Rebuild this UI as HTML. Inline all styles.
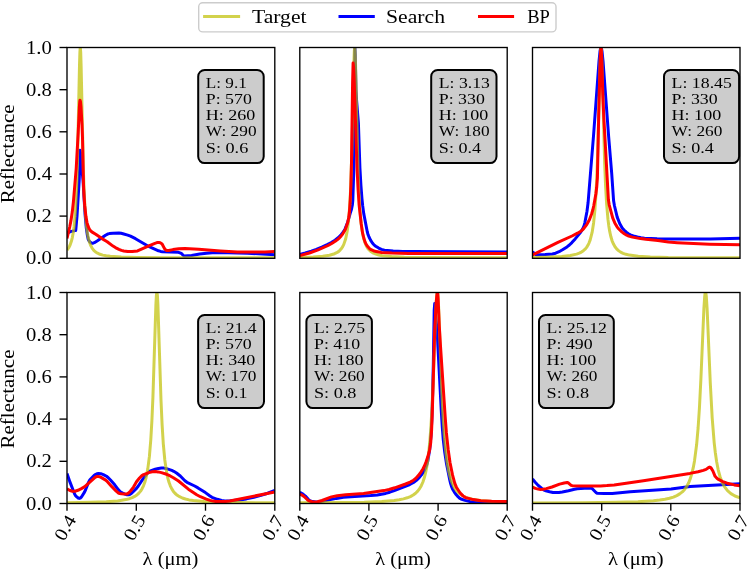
<!DOCTYPE html>
<html><head><meta charset="utf-8"><style>
html,body{margin:0;padding:0;background:#fff;}
svg{display:block;will-change:transform;}
text{font-family:"Liberation Serif", serif;fill:#000;}
</style></head><body>
<svg width="749" height="570" viewBox="0 0 749 570">
<defs><clipPath id="c0"><rect x="67.0" y="47.5" width="207.8" height="210.8"/></clipPath><clipPath id="c1"><rect x="299.8" y="47.5" width="207.4" height="210.8"/></clipPath><clipPath id="c2"><rect x="532.5" y="47.5" width="207.5" height="210.8"/></clipPath><clipPath id="c3"><rect x="67.0" y="292.5" width="207.8" height="211.0"/></clipPath><clipPath id="c4"><rect x="299.8" y="292.5" width="207.4" height="211.0"/></clipPath><clipPath id="c5"><rect x="532.5" y="292.5" width="207.5" height="211.0"/></clipPath></defs>
<rect width="749" height="570" fill="#fff"/>
<g clip-path="url(#c0)" fill="none" stroke-linejoin="round" stroke-linecap="butt">
<path d="M67.0,233.0 71.2,231.4 75.3,230.6 75.6,230.5 75.8,229.8 77.0,216.2 79.2,180.3 79.8,165.0 80.0,150.3 80.5,152.7 81.4,163.9 83.0,180.0 85.0,213.6 86.3,228.0 87.4,235.5 88.2,239.3 88.5,240.0 89.6,241.6 91.2,243.0 92.6,243.3 94.3,242.7 97.1,241.0 105.5,235.3 108.1,233.9 109.4,233.6 113.0,233.2 118.9,233.0 121.1,233.3 123.8,234.0 127.7,235.1 130.5,236.2 135.5,238.7 149.2,246.7 158.5,250.8 160.6,251.4 162.5,251.7 178.5,252.3 181.3,253.4 183.4,255.5 184.3,256.0 191.6,255.4 199.6,254.0 206.6,253.2 215.2,252.6 228.0,252.7 247.5,253.2 274.8,254.7" stroke="#0000ff" stroke-width="3.0"/>
<path d="M67.0,250.1 68.7,247.8 70.1,245.0 71.3,241.6 72.4,237.3 73.3,232.3 74.1,226.4 75.5,210.1 76.5,190.7 77.3,167.5 79.5,65.3 79.9,52.0 80.3,47.1 80.7,52.0 81.1,65.3 83.4,170.8 84.2,193.0 85.2,211.6 86.6,227.2 87.4,233.0 88.3,237.7 89.4,242.0 90.6,245.3 92.1,248.1 93.8,250.3 95.6,252.0 97.6,253.2 100.0,254.3 102.8,255.1 106.2,255.8 110.2,256.3 121.2,257.0 136.9,257.4 161.7,257.7 274.8,257.8" stroke="rgba(191,191,0,0.7)" stroke-width="3.0"/>
<path d="M67.0,238.5 69.7,227.0 70.9,220.9 72.3,211.8 73.4,202.0 76.2,168.5 78.2,132.7 79.4,106.6 79.7,102.3 80.0,100.3 80.5,101.8 81.0,106.8 82.0,124.9 82.5,137.8 83.5,184.5 84.0,195.4 84.7,205.4 85.9,216.3 87.0,222.6 88.1,226.2 89.2,228.8 90.2,230.4 91.8,231.9 95.7,234.3 102.0,238.6 107.2,241.7 113.0,246.1 115.4,247.6 118.9,249.4 121.4,250.4 123.8,251.0 127.7,251.6 132.1,251.6 137.5,250.9 149.4,245.6 154.9,243.3 157.0,242.6 158.8,242.4 160.2,242.7 161.8,243.7 162.5,244.7 164.5,248.6 166.0,250.2 166.9,250.6 168.7,250.5 173.0,249.6 178.7,248.8 184.9,248.4 198.7,249.2 220.4,250.9 237.3,251.9 264.9,252.0 274.8,251.5" stroke="#ff0000" stroke-width="3.0"/>
</g>
<rect x="67.0" y="47.5" width="207.8" height="210.8" fill="none" stroke="#000" stroke-width="1.35"/>
<rect x="198.2" y="70.0" width="65.5" height="93.1" rx="6.5" ry="6.5" fill="#cccccc" stroke="#000" stroke-width="2.0"/>
<text x="205.8" y="87.5" font-size="15.6" textLength="40.99" lengthAdjust="spacingAndGlyphs">L: 9.1</text>
<text x="205.8" y="103.8" font-size="15.6" textLength="46.05" lengthAdjust="spacingAndGlyphs">P: 570</text>
<text x="205.8" y="120.1" font-size="15.6" textLength="49.56" lengthAdjust="spacingAndGlyphs">H: 260</text>
<text x="205.8" y="136.4" font-size="15.6" textLength="50.74" lengthAdjust="spacingAndGlyphs">W: 290</text>
<text x="205.8" y="152.7" font-size="15.6" textLength="42.46" lengthAdjust="spacingAndGlyphs">S: 0.6</text>
<line x1="59.5" y1="258.3" x2="67.0" y2="258.3" stroke="#000" stroke-width="1.35"/>
<text x="51.9" y="264.4" font-size="18.5" text-anchor="end" textLength="25.78" lengthAdjust="spacingAndGlyphs">0.0</text>
<line x1="59.5" y1="216.1" x2="67.0" y2="216.1" stroke="#000" stroke-width="1.35"/>
<text x="51.9" y="222.2" font-size="18.5" text-anchor="end" textLength="25.72" lengthAdjust="spacingAndGlyphs">0.2</text>
<line x1="59.5" y1="174.0" x2="67.0" y2="174.0" stroke="#000" stroke-width="1.35"/>
<text x="51.9" y="180.1" font-size="18.5" text-anchor="end" textLength="25.62" lengthAdjust="spacingAndGlyphs">0.4</text>
<line x1="59.5" y1="131.8" x2="67.0" y2="131.8" stroke="#000" stroke-width="1.35"/>
<text x="51.9" y="137.9" font-size="18.5" text-anchor="end" textLength="25.76" lengthAdjust="spacingAndGlyphs">0.6</text>
<line x1="59.5" y1="89.7" x2="67.0" y2="89.7" stroke="#000" stroke-width="1.35"/>
<text x="51.9" y="95.8" font-size="18.5" text-anchor="end" textLength="25.78" lengthAdjust="spacingAndGlyphs">0.8</text>
<line x1="59.5" y1="47.5" x2="67.0" y2="47.5" stroke="#000" stroke-width="1.35"/>
<text x="51.9" y="53.6" font-size="18.5" text-anchor="end" textLength="25.89" lengthAdjust="spacingAndGlyphs">1.0</text>
<text transform="translate(14.0,153.9) rotate(-90)" font-size="18.5" text-anchor="middle" textLength="98.84" lengthAdjust="spacingAndGlyphs">Reflectance</text>
<g clip-path="url(#c1)" fill="none" stroke-linejoin="round" stroke-linecap="butt">
<path d="M299.8,254.4 305.3,253.0 311.3,251.2 316.3,249.5 321.8,247.2 327.2,244.7 331.3,242.6 335.0,240.2 338.1,237.8 340.3,235.7 342.1,233.6 343.8,231.2 345.1,228.9 347.7,222.2 350.2,213.3 351.5,209.3 352.4,204.7 352.8,200.3 353.8,170.0 354.4,121.1 354.9,48.0 355.2,54.4 356.0,90.0 356.6,100.5 358.4,123.1 359.9,167.6 360.9,185.0 361.9,198.1 362.7,206.0 363.7,213.4 367.2,231.5 368.1,234.8 369.0,237.0 370.7,240.4 372.4,243.0 374.0,244.9 375.7,246.2 378.7,248.1 381.4,249.4 384.5,250.2 393.2,250.9 402.7,251.4 414.0,251.5 507.2,251.9" stroke="#0000ff" stroke-width="3.0"/>
<path d="M299.8,257.3 313.3,256.9 322.7,256.2 329.5,255.2 334.6,253.7 336.7,252.7 338.5,251.6 340.1,250.1 341.5,248.5 342.7,246.6 343.8,244.4 345.7,238.7 347.2,231.3 348.5,221.1 349.6,207.7 350.5,191.4 351.9,150.6 353.9,62.5 354.3,51.2 354.7,47.1 355.1,51.2 355.5,62.5 358.0,167.8 358.8,189.2 359.7,206.2 361.0,222.1 361.8,228.6 362.7,234.1 363.7,238.7 364.9,242.6 366.2,245.7 367.8,248.4 369.4,250.2 371.2,251.8 373.4,253.1 375.9,254.1 378.8,255.0 382.3,255.7 391.5,256.6 404.4,257.2 424.1,257.5 507.2,257.8" stroke="rgba(191,191,0,0.7)" stroke-width="3.0"/>
<path d="M299.8,255.6 309.4,253.0 318.1,249.9 328.1,245.5 331.7,243.5 335.2,241.3 337.5,239.6 339.5,237.8 341.2,235.9 342.8,233.8 344.3,231.3 345.5,228.9 347.6,222.8 348.7,217.7 349.5,211.3 350.3,199.2 350.9,184.8 351.5,162.5 352.6,81.9 353.1,63.0 353.6,67.2 354.1,78.2 357.0,167.6 358.1,189.8 359.1,204.8 361.2,223.9 362.5,232.6 363.8,238.0 365.1,242.1 366.2,244.4 367.9,246.8 369.5,248.6 371.0,249.7 373.4,250.7 376.3,251.6 381.5,252.5 391.8,253.1 408.6,253.6 507.2,253.6" stroke="#ff0000" stroke-width="3.0"/>
</g>
<rect x="299.8" y="47.5" width="207.4" height="210.8" fill="none" stroke="#000" stroke-width="1.35"/>
<rect x="431.2" y="70.0" width="65.3" height="93.1" rx="6.5" ry="6.5" fill="#cccccc" stroke="#000" stroke-width="2.0"/>
<text x="438.8" y="87.5" font-size="15.6" textLength="50.99" lengthAdjust="spacingAndGlyphs">L: 3.13</text>
<text x="438.8" y="103.8" font-size="15.6" textLength="46.05" lengthAdjust="spacingAndGlyphs">P: 330</text>
<text x="438.8" y="120.1" font-size="15.6" textLength="49.56" lengthAdjust="spacingAndGlyphs">H: 100</text>
<text x="438.8" y="136.4" font-size="15.6" textLength="50.74" lengthAdjust="spacingAndGlyphs">W: 180</text>
<text x="438.8" y="152.7" font-size="15.6" textLength="42.31" lengthAdjust="spacingAndGlyphs">S: 0.4</text>
<g clip-path="url(#c2)" fill="none" stroke-linejoin="round" stroke-linecap="butt">
<path d="M532.5,251.9 535.9,254.5 536.9,254.8 538.3,254.8 545.2,254.6 552.4,254.0 555.6,253.2 559.1,251.7 562.5,249.8 567.0,246.9 569.4,245.0 571.9,242.6 575.2,238.9 580.8,232.1 582.6,229.1 584.1,225.7 584.9,222.5 587.0,211.3 588.1,202.5 593.5,136.0 599.0,61.4 600.1,50.7 600.6,48.2 601.0,47.5 601.5,48.5 602.0,51.2 603.1,62.0 608.6,136.0 611.7,173.4 613.6,200.8 614.4,205.5 617.2,217.1 619.7,223.5 622.2,227.9 624.0,230.0 626.3,232.2 628.4,233.8 630.4,234.9 633.4,235.9 637.4,237.0 641.0,237.7 644.5,238.2 657.1,238.8 669.6,239.0 710.3,238.9 740.0,238.3" stroke="#0000ff" stroke-width="3.0"/>
<path d="M532.5,257.4 549.8,257.0 561.7,256.4 570.3,255.5 576.6,254.1 579.2,253.2 581.4,252.1 583.4,250.7 585.1,249.2 586.6,247.4 587.9,245.3 589.1,242.8 590.2,239.9 592.1,232.4 593.6,222.9 594.9,210.2 596.0,193.9 596.9,175.0 597.7,152.5 600.1,61.7 600.6,50.1 601.0,47.1 601.5,51.8 602.0,64.8 604.7,164.5 605.6,186.3 606.6,203.5 608.0,219.5 608.8,225.9 609.8,231.9 610.9,236.8 612.1,240.8 613.5,244.1 615.0,246.8 616.6,248.8 618.5,250.6 620.6,252.1 623.1,253.3 626.0,254.3 629.4,255.1 638.2,256.2 650.3,256.9 668.3,257.4 740.0,257.8" stroke="rgba(191,191,0,0.7)" stroke-width="3.0"/>
<path d="M532.5,255.0 557.9,242.3 572.0,236.0 577.5,233.2 580.4,231.5 582.2,230.1 583.7,228.6 586.9,224.3 589.4,219.7 591.6,214.0 592.7,210.3 593.7,206.0 595.9,193.8 596.7,187.3 597.4,178.0 598.7,115.8 599.8,74.4 600.5,53.6 601.0,48.0 601.3,50.3 601.6,56.4 602.8,94.9 603.8,117.2 608.4,199.8 609.2,204.8 612.7,217.9 614.8,222.9 617.2,227.1 618.8,229.0 621.8,231.9 624.3,233.8 626.7,235.2 628.7,236.1 632.4,237.1 640.4,238.6 645.9,239.3 657.9,240.4 668.4,242.1 677.3,242.7 709.6,244.2 725.0,244.6 740.0,244.7" stroke="#ff0000" stroke-width="3.0"/>
</g>
<rect x="532.5" y="47.5" width="207.5" height="210.8" fill="none" stroke="#000" stroke-width="1.35"/>
<rect x="664.0" y="70.0" width="75.1" height="93.1" rx="6.5" ry="6.5" fill="#cccccc" stroke="#000" stroke-width="2.0"/>
<text x="671.6" y="87.5" font-size="15.6" textLength="60.30" lengthAdjust="spacingAndGlyphs">L: 18.45</text>
<text x="671.6" y="103.8" font-size="15.6" textLength="46.05" lengthAdjust="spacingAndGlyphs">P: 330</text>
<text x="671.6" y="120.1" font-size="15.6" textLength="49.56" lengthAdjust="spacingAndGlyphs">H: 100</text>
<text x="671.6" y="136.4" font-size="15.6" textLength="50.74" lengthAdjust="spacingAndGlyphs">W: 260</text>
<text x="671.6" y="152.7" font-size="15.6" textLength="42.31" lengthAdjust="spacingAndGlyphs">S: 0.4</text>
<g clip-path="url(#c3)" fill="none" stroke-linejoin="round" stroke-linecap="butt">
<path d="M67.0,473.4 70.1,482.4 74.6,494.0 75.6,495.7 76.8,496.9 78.2,498.0 79.3,498.4 80.3,498.1 81.3,497.2 84.5,492.1 85.7,489.5 88.6,482.1 89.9,479.7 93.8,475.7 95.4,474.5 96.9,473.7 98.6,473.4 100.8,473.7 103.3,474.6 106.5,476.3 108.3,477.7 110.5,480.0 114.7,484.8 118.5,489.9 120.3,491.8 122.2,492.9 125.0,494.1 127.0,494.7 128.7,494.8 130.1,494.3 131.6,493.3 136.5,488.4 138.3,486.0 143.0,478.9 147.0,473.8 149.0,471.8 150.5,470.9 155.2,469.2 158.4,468.4 161.4,468.0 163.8,468.1 166.5,468.6 171.8,470.4 173.7,471.3 176.5,473.0 180.3,476.0 184.9,480.7 187.0,482.3 194.7,486.0 198.0,487.9 205.4,492.6 210.0,496.0 212.0,497.3 217.3,499.3 221.6,500.5 224.9,500.9 230.7,500.7 241.1,499.7 246.4,498.9 253.9,497.3 261.0,495.4 267.7,493.2 274.8,490.5" stroke="#0000ff" stroke-width="3.0"/>
<path d="M67.0,502.7 90.3,502.3 106.3,501.8 117.7,500.9 125.9,499.6 129.3,498.7 132.2,497.7 134.7,496.4 136.9,495.0 138.9,493.1 140.6,491.1 142.1,488.7 143.5,485.8 144.8,482.3 145.9,478.4 147.8,468.9 149.4,456.4 150.8,439.6 151.9,420.7 152.9,397.6 155.9,304.5 156.4,295.3 156.9,292.1 157.4,295.3 157.9,304.5 161.0,400.2 162.1,424.6 163.3,443.8 164.8,460.0 166.7,472.9 167.8,478.0 169.0,482.3 170.3,485.8 171.8,488.9 173.4,491.4 175.2,493.5 177.3,495.3 179.6,496.7 182.3,498.0 185.5,499.0 189.1,499.9 193.4,500.6 204.0,501.6 219.1,502.2 241.1,502.6 274.8,502.8" stroke="rgba(191,191,0,0.7)" stroke-width="3.0"/>
<path d="M67.0,488.9 69.9,490.5 72.5,491.2 75.0,491.2 77.9,490.3 81.4,488.6 84.5,486.8 95.1,477.3 96.5,476.6 97.9,476.4 99.4,476.7 101.0,477.4 105.7,480.1 107.4,481.7 111.6,486.4 116.2,491.1 118.5,493.0 119.7,493.5 121.5,493.8 124.4,494.1 126.5,494.1 128.3,493.2 130.5,491.0 133.5,487.1 136.5,481.7 139.5,478.0 141.9,475.6 143.6,474.6 148.8,472.6 152.2,471.8 155.3,471.6 158.1,471.9 161.4,472.6 166.6,474.3 169.8,475.7 173.4,477.7 178.5,481.0 188.4,489.2 196.7,494.7 200.4,496.7 206.3,499.1 210.0,500.4 213.1,501.1 215.7,501.4 225.4,501.4 229.7,501.0 274.8,492.0" stroke="#ff0000" stroke-width="3.0"/>
</g>
<rect x="67.0" y="292.5" width="207.8" height="211.0" fill="none" stroke="#000" stroke-width="1.35"/>
<rect x="198.1" y="315.0" width="65.9" height="93.1" rx="6.5" ry="6.5" fill="#cccccc" stroke="#000" stroke-width="2.0"/>
<text x="205.7" y="332.5" font-size="15.6" textLength="50.94" lengthAdjust="spacingAndGlyphs">L: 21.4</text>
<text x="205.7" y="348.8" font-size="15.6" textLength="46.05" lengthAdjust="spacingAndGlyphs">P: 570</text>
<text x="205.7" y="365.1" font-size="15.6" textLength="49.56" lengthAdjust="spacingAndGlyphs">H: 340</text>
<text x="205.7" y="381.4" font-size="15.6" textLength="50.74" lengthAdjust="spacingAndGlyphs">W: 170</text>
<text x="205.7" y="397.7" font-size="15.6" textLength="41.69" lengthAdjust="spacingAndGlyphs">S: 0.1</text>
<line x1="59.5" y1="503.5" x2="67.0" y2="503.5" stroke="#000" stroke-width="1.35"/>
<text x="51.9" y="509.6" font-size="18.5" text-anchor="end" textLength="25.78" lengthAdjust="spacingAndGlyphs">0.0</text>
<line x1="59.5" y1="461.3" x2="67.0" y2="461.3" stroke="#000" stroke-width="1.35"/>
<text x="51.9" y="467.4" font-size="18.5" text-anchor="end" textLength="25.72" lengthAdjust="spacingAndGlyphs">0.2</text>
<line x1="59.5" y1="419.1" x2="67.0" y2="419.1" stroke="#000" stroke-width="1.35"/>
<text x="51.9" y="425.2" font-size="18.5" text-anchor="end" textLength="25.62" lengthAdjust="spacingAndGlyphs">0.4</text>
<line x1="59.5" y1="376.9" x2="67.0" y2="376.9" stroke="#000" stroke-width="1.35"/>
<text x="51.9" y="383.0" font-size="18.5" text-anchor="end" textLength="25.76" lengthAdjust="spacingAndGlyphs">0.6</text>
<line x1="59.5" y1="334.7" x2="67.0" y2="334.7" stroke="#000" stroke-width="1.35"/>
<text x="51.9" y="340.8" font-size="18.5" text-anchor="end" textLength="25.78" lengthAdjust="spacingAndGlyphs">0.8</text>
<line x1="59.5" y1="292.5" x2="67.0" y2="292.5" stroke="#000" stroke-width="1.35"/>
<text x="51.9" y="298.6" font-size="18.5" text-anchor="end" textLength="25.89" lengthAdjust="spacingAndGlyphs">1.0</text>
<text transform="translate(14.0,399.0) rotate(-90)" font-size="18.5" text-anchor="middle" textLength="98.84" lengthAdjust="spacingAndGlyphs">Reflectance</text>
<line x1="67.0" y1="503.5" x2="67.0" y2="510.7" stroke="#000" stroke-width="1.35"/>
<text transform="translate(65.1,527.8) rotate(-60)" font-size="18.5" text-anchor="middle" y="6.1" textLength="25.62" lengthAdjust="spacingAndGlyphs">0.4</text>
<line x1="136.3" y1="503.5" x2="136.3" y2="510.7" stroke="#000" stroke-width="1.35"/>
<text transform="translate(134.4,527.8) rotate(-60)" font-size="18.5" text-anchor="middle" y="6.1" textLength="25.68" lengthAdjust="spacingAndGlyphs">0.5</text>
<line x1="205.5" y1="503.5" x2="205.5" y2="510.7" stroke="#000" stroke-width="1.35"/>
<text transform="translate(203.6,527.8) rotate(-60)" font-size="18.5" text-anchor="middle" y="6.1" textLength="25.76" lengthAdjust="spacingAndGlyphs">0.6</text>
<line x1="274.8" y1="503.5" x2="274.8" y2="510.7" stroke="#000" stroke-width="1.35"/>
<text transform="translate(272.9,527.8) rotate(-60)" font-size="18.5" text-anchor="middle" y="6.1" textLength="25.55" lengthAdjust="spacingAndGlyphs">0.7</text>
<text x="170.4" y="564.6" font-size="18.5" text-anchor="middle" textLength="55.66" lengthAdjust="spacingAndGlyphs">λ (μm)</text>
<g clip-path="url(#c4)" fill="none" stroke-linejoin="round" stroke-linecap="butt">
<path d="M299.8,492.2 302.4,493.8 305.4,496.1 308.5,499.6 309.6,500.6 312.7,501.6 315.7,502.0 319.7,501.7 336.4,498.4 343.4,497.3 354.7,496.4 370.8,495.6 377.3,494.9 385.6,493.4 389.8,492.2 394.3,490.6 409.8,484.5 413.5,482.5 416.4,480.3 419.4,477.4 422.3,473.7 424.0,471.1 425.4,468.3 426.8,464.6 427.8,461.0 429.7,449.4 431.0,435.5 431.8,420.0 432.5,399.3 433.3,365.5 434.2,310.0 434.7,303.5 437.2,333.0 441.2,409.3 442.3,427.4 443.2,439.0 444.7,452.1 446.4,463.1 449.5,478.8 450.7,483.8 451.7,487.0 452.5,488.9 454.5,492.3 456.3,494.8 458.0,496.7 459.5,498.1 461.0,499.0 465.1,500.4 469.9,501.5 474.5,502.0 507.2,502.3" stroke="#0000ff" stroke-width="3.0"/>
<path d="M299.8,502.8 338.6,502.6 364.2,502.2 381.8,501.5 394.2,500.5 399.2,499.8 403.5,498.9 407.2,497.8 410.4,496.6 413.2,495.0 415.6,493.2 417.7,491.1 419.6,488.6 421.3,485.7 422.9,482.0 424.3,477.8 425.6,472.7 426.8,466.6 427.8,460.2 429.6,444.0 430.9,427.1 432.0,408.0 433.3,378.6 435.9,308.6 436.6,296.5 437.0,292.9 437.3,292.1 437.6,292.9 437.9,295.3 438.6,306.5 441.9,393.1 443.0,415.5 444.1,432.9 445.5,449.2 447.0,461.6 448.8,471.8 451.0,480.0 452.2,483.2 453.6,486.2 455.1,488.8 456.8,491.0 458.7,493.0 460.8,494.6 463.2,496.1 465.9,497.3 468.9,498.3 472.3,499.2 480.7,500.5 491.9,501.5 507.2,502.1" stroke="rgba(191,191,0,0.7)" stroke-width="3.0"/>
<path d="M299.8,494.0 301.9,495.1 304.3,496.7 307.4,499.8 308.5,500.6 312.1,501.7 315.2,502.0 317.5,501.7 322.0,500.5 331.5,496.9 337.2,495.8 345.8,494.7 363.5,493.5 383.9,490.6 389.0,489.5 394.8,487.8 405.6,484.0 410.2,482.1 413.5,480.2 415.7,478.4 418.3,475.6 420.9,472.1 422.9,469.0 424.3,466.2 425.9,462.3 427.8,456.8 429.6,450.2 430.7,442.9 431.6,430.3 432.2,415.8 434.7,330.0 436.3,301.3 436.9,294.9 437.2,293.1 437.5,292.5 437.8,294.1 438.1,298.5 439.3,326.2 440.4,344.7 445.2,417.1 446.4,432.9 448.2,449.7 450.0,462.5 452.5,474.9 454.8,483.4 456.4,487.2 460.0,492.7 463.0,495.9 464.4,496.9 465.8,497.6 473.2,499.6 480.8,500.7 491.6,501.2 507.2,501.4" stroke="#ff0000" stroke-width="3.0"/>
</g>
<rect x="299.8" y="292.5" width="207.4" height="211.0" fill="none" stroke="#000" stroke-width="1.35"/>
<rect x="306.4" y="315.0" width="65.5" height="93.1" rx="6.5" ry="6.5" fill="#cccccc" stroke="#000" stroke-width="2.0"/>
<text x="314.0" y="332.5" font-size="15.6" textLength="50.99" lengthAdjust="spacingAndGlyphs">L: 2.75</text>
<text x="314.0" y="348.8" font-size="15.6" textLength="46.05" lengthAdjust="spacingAndGlyphs">P: 410</text>
<text x="314.0" y="365.1" font-size="15.6" textLength="49.56" lengthAdjust="spacingAndGlyphs">H: 180</text>
<text x="314.0" y="381.4" font-size="15.6" textLength="50.74" lengthAdjust="spacingAndGlyphs">W: 260</text>
<text x="314.0" y="397.7" font-size="15.6" textLength="42.48" lengthAdjust="spacingAndGlyphs">S: 0.8</text>
<line x1="299.8" y1="503.5" x2="299.8" y2="510.7" stroke="#000" stroke-width="1.35"/>
<text transform="translate(297.9,527.8) rotate(-60)" font-size="18.5" text-anchor="middle" y="6.1" textLength="25.62" lengthAdjust="spacingAndGlyphs">0.4</text>
<line x1="368.9" y1="503.5" x2="368.9" y2="510.7" stroke="#000" stroke-width="1.35"/>
<text transform="translate(367.0,527.8) rotate(-60)" font-size="18.5" text-anchor="middle" y="6.1" textLength="25.68" lengthAdjust="spacingAndGlyphs">0.5</text>
<line x1="438.1" y1="503.5" x2="438.1" y2="510.7" stroke="#000" stroke-width="1.35"/>
<text transform="translate(436.2,527.8) rotate(-60)" font-size="18.5" text-anchor="middle" y="6.1" textLength="25.76" lengthAdjust="spacingAndGlyphs">0.6</text>
<line x1="507.2" y1="503.5" x2="507.2" y2="510.7" stroke="#000" stroke-width="1.35"/>
<text transform="translate(505.3,527.8) rotate(-60)" font-size="18.5" text-anchor="middle" y="6.1" textLength="25.55" lengthAdjust="spacingAndGlyphs">0.7</text>
<text x="403.0" y="564.6" font-size="18.5" text-anchor="middle" textLength="55.66" lengthAdjust="spacingAndGlyphs">λ (μm)</text>
<g clip-path="url(#c5)" fill="none" stroke-linejoin="round" stroke-linecap="butt">
<path d="M532.5,479.0 535.2,482.3 537.6,484.8 541.8,488.5 544.2,490.2 545.8,490.9 549.6,491.8 552.9,492.4 556.0,492.6 558.9,492.5 562.3,492.0 568.5,490.8 574.5,489.2 577.2,488.7 584.5,488.2 590.9,488.0 591.5,488.1 592.3,488.7 596.2,492.7 597.1,493.3 604.3,493.6 612.3,493.6 630.2,491.7 671.1,488.9 690.1,486.5 740.0,483.8" stroke="#0000ff" stroke-width="3.0"/>
<path d="M532.5,502.9 583.0,502.7 615.7,502.3 637.9,501.7 653.4,500.8 659.7,500.1 665.0,499.3 669.5,498.3 673.4,497.1 676.8,495.6 679.7,493.9 682.3,491.9 684.6,489.4 686.8,486.3 688.7,482.7 690.4,478.4 691.9,473.4 693.3,467.4 694.5,460.9 696.6,444.8 698.1,428.0 699.4,408.5 700.9,378.9 703.9,308.5 704.7,296.4 705.1,293.2 705.5,292.1 705.9,293.2 706.3,296.4 707.1,308.5 710.3,383.3 712.2,418.1 714.2,442.8 715.3,452.5 716.6,461.5 718.2,469.8 720.0,476.5 722.1,482.2 724.6,486.9 727.5,490.7 730.9,493.6 735.0,496.0 740.0,497.8" stroke="rgba(191,191,0,0.7)" stroke-width="3.0"/>
<path d="M532.5,487.2 535.4,488.4 538.1,489.1 540.5,489.4 543.1,489.2 546.3,488.6 552.0,487.0 559.6,484.1 564.2,483.0 567.1,482.6 567.7,482.6 568.3,482.9 571.1,485.4 572.7,485.7 581.1,485.9 600.6,485.9 606.9,485.6 614.2,485.0 643.4,480.7 689.8,473.4 698.1,471.8 703.3,470.4 706.1,469.4 708.7,467.5 709.8,467.1 710.4,467.3 711.0,467.9 712.9,471.0 715.1,476.3 716.9,478.2 718.9,479.7 722.8,481.6 727.2,483.2 734.3,484.9 740.0,485.8" stroke="#ff0000" stroke-width="3.0"/>
</g>
<rect x="532.5" y="292.5" width="207.5" height="211.0" fill="none" stroke="#000" stroke-width="1.35"/>
<rect x="539.0" y="315.0" width="74.8" height="93.1" rx="6.5" ry="6.5" fill="#cccccc" stroke="#000" stroke-width="2.0"/>
<text x="546.6" y="332.5" font-size="15.6" textLength="60.34" lengthAdjust="spacingAndGlyphs">L: 25.12</text>
<text x="546.6" y="348.8" font-size="15.6" textLength="46.05" lengthAdjust="spacingAndGlyphs">P: 490</text>
<text x="546.6" y="365.1" font-size="15.6" textLength="49.56" lengthAdjust="spacingAndGlyphs">H: 100</text>
<text x="546.6" y="381.4" font-size="15.6" textLength="50.74" lengthAdjust="spacingAndGlyphs">W: 260</text>
<text x="546.6" y="397.7" font-size="15.6" textLength="42.48" lengthAdjust="spacingAndGlyphs">S: 0.8</text>
<line x1="532.5" y1="503.5" x2="532.5" y2="510.7" stroke="#000" stroke-width="1.35"/>
<text transform="translate(530.6,527.8) rotate(-60)" font-size="18.5" text-anchor="middle" y="6.1" textLength="25.62" lengthAdjust="spacingAndGlyphs">0.4</text>
<line x1="601.7" y1="503.5" x2="601.7" y2="510.7" stroke="#000" stroke-width="1.35"/>
<text transform="translate(599.8,527.8) rotate(-60)" font-size="18.5" text-anchor="middle" y="6.1" textLength="25.68" lengthAdjust="spacingAndGlyphs">0.5</text>
<line x1="670.8" y1="503.5" x2="670.8" y2="510.7" stroke="#000" stroke-width="1.35"/>
<text transform="translate(668.9,527.8) rotate(-60)" font-size="18.5" text-anchor="middle" y="6.1" textLength="25.76" lengthAdjust="spacingAndGlyphs">0.6</text>
<line x1="740.0" y1="503.5" x2="740.0" y2="510.7" stroke="#000" stroke-width="1.35"/>
<text transform="translate(738.1,527.8) rotate(-60)" font-size="18.5" text-anchor="middle" y="6.1" textLength="25.55" lengthAdjust="spacingAndGlyphs">0.7</text>
<text x="635.8" y="564.6" font-size="18.5" text-anchor="middle" textLength="55.66" lengthAdjust="spacingAndGlyphs">λ (μm)</text>
<rect x="198.7" y="2.8" width="357.3" height="29.1" rx="4" ry="4" fill="#fff" stroke="#cccccc" stroke-width="1.4"/>
<line x1="203.1" y1="16.5" x2="240.1" y2="16.5" stroke="rgba(191,191,0,0.7)" stroke-width="3.0"/>
<text x="252.0" y="22.8" font-size="18.5" textLength="54.52" lengthAdjust="spacingAndGlyphs">Target</text>
<line x1="338.5" y1="16.5" x2="374.8" y2="16.5" stroke="#0000ff" stroke-width="3.0"/>
<text x="386.0" y="22.8" font-size="18.5" textLength="58.98" lengthAdjust="spacingAndGlyphs">Search</text>
<line x1="478.0" y1="16.5" x2="514.1" y2="16.5" stroke="#ff0000" stroke-width="3.0"/>
<text x="527.2" y="22.8" font-size="18.5" textLength="22.63" lengthAdjust="spacingAndGlyphs">BP</text>
</svg>
</body></html>
